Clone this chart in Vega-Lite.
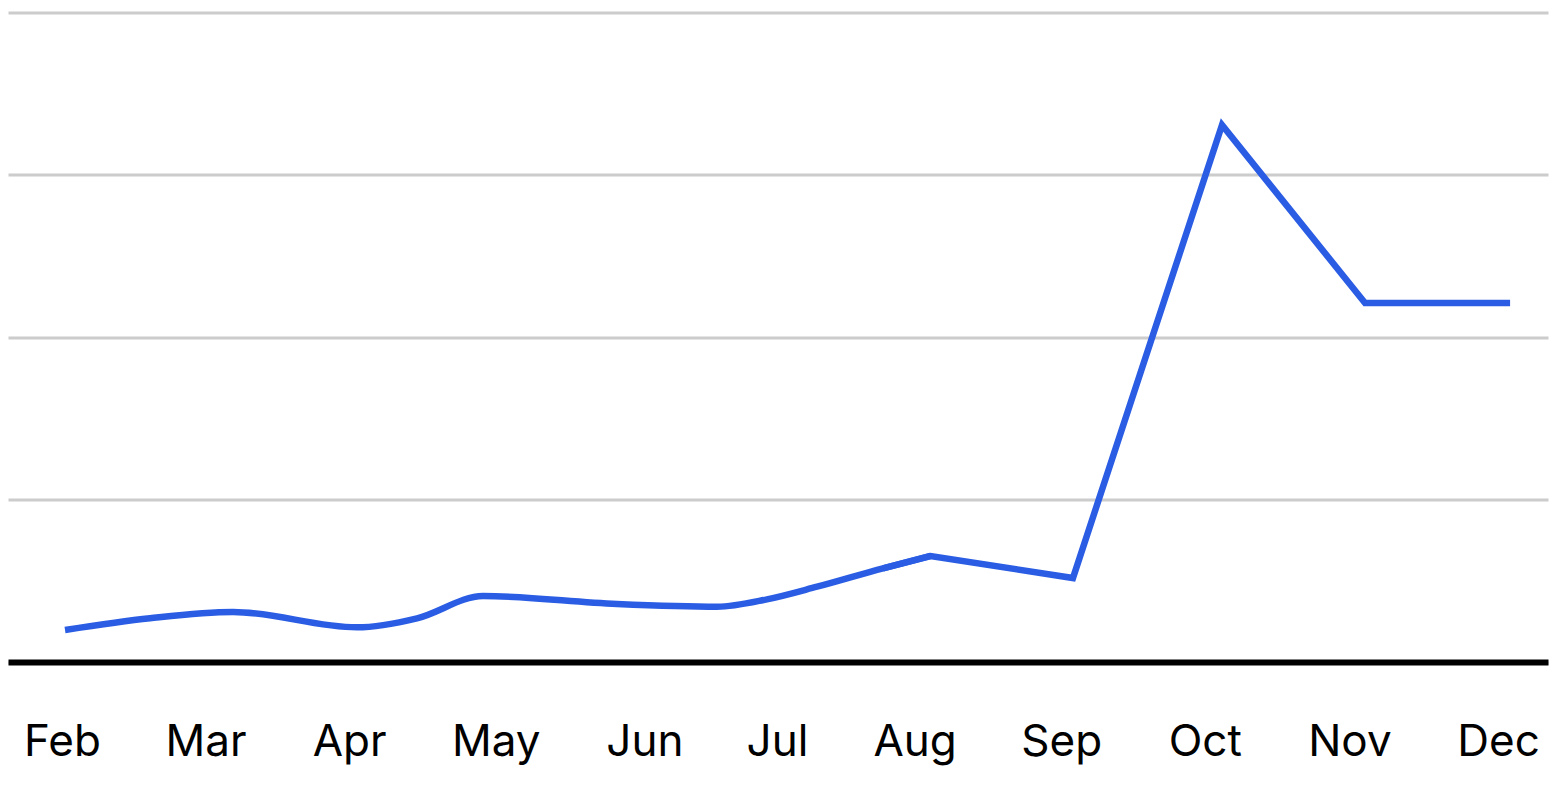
{
  "$schema": "https://vega.github.io/schema/vega-lite/v6.json",
  "autosize": {"type": "none"},
  "width": 1540,
  "height": 649.5,
  "padding": {"left": 8, "top": 12.5, "right": 19, "bottom": 123},
  "background": "white",
  "config": {"view": {"stroke": null}},
  "data": {
    "values": [
      {"t": 0.021, "value": 4.93},
      {"t": 0.613, "value": 6.73},
      {"t": 1.191, "value": 7.70},
      {"t": 2.054, "value": 5.34},
      {"t": 2.472, "value": 6.73},
      {"t": 2.932, "value": 10.16},
      {"t": 3.865, "value": 8.93},
      {"t": 4.561, "value": 8.51},
      {"t": 4.909, "value": 9.65},
      {"t": 5.258, "value": 11.59},
      {"t": 5.717, "value": 14.43},
      {"t": 6.048, "value": 16.32},
      {"t": 7.040, "value": 12.93},
      {"t": 8.078, "value": 82.68},
      {"t": 9.074, "value": 55.27},
      {"t": 10.084, "value": 55.27}
    ]
  },
  "encoding": {
    "x": {
      "field": "t",
      "type": "quantitative",
      "scale": {"domain": [-0.376, 10.348], "nice": false, "zero": false},
      "axis": {
        "title": null,
        "values": [0, 1, 2, 3, 4, 5, 6, 7, 8, 9, 10],
        "labelExpr": "['Feb','Mar','Apr','May','Jun','Jul','Aug','Sep','Oct','Nov','Dec'][datum.value]",
        "grid": false,
        "ticks": false,
        "tickSize": 0,
        "domainColor": "#000000",
        "domainWidth": 6,
        "labelFont": "Inter",
        "labelFontSize": 44,
        "labelColor": "#000000",
        "labelBaseline": "alphabetic",
        "labelPadding": 93,
        "labelAlign": "center",
        "labelFlush": false,
        "labelOverlap": false,
        "labelOffset": {
          "condition": [
            {"test": "datum.value == 3", "value": 3},
            {"test": "datum.value == 4", "value": 8},
            {"test": "datum.value == 5", "value": -3},
            {"test": "datum.value == 6", "value": -9},
            {"test": "datum.value == 7", "value": -6},
            {"test": "datum.value == 8", "value": -6},
            {"test": "datum.value == 9", "value": -5}
          ],
          "value": 0
        }
      }
    },
    "y": {
      "field": "value",
      "type": "quantitative",
      "scale": {"domain": [0, 100], "nice": false},
      "axis": {
        "title": null,
        "values": [0, 25, 50, 75, 100],
        "labels": false,
        "ticks": false,
        "domain": false,
        "grid": true,
        "gridColor": "#cccccc",
        "gridWidth": 3
      }
    }
  },
  "layer": [
    {
      "transform": [{"filter": "datum.t <= 6.05"}],
      "mark": {"type": "line", "color": "#2a5de4", "strokeWidth": 6.5, "strokeCap": "butt", "interpolate": "monotone"}
    },
    {
      "transform": [{"filter": "datum.t >= 5.7"}],
      "mark": {"type": "line", "color": "#2a5de4", "strokeWidth": 6.5, "strokeCap": "butt", "strokeJoin": "miter"}
    }
  ]
}
